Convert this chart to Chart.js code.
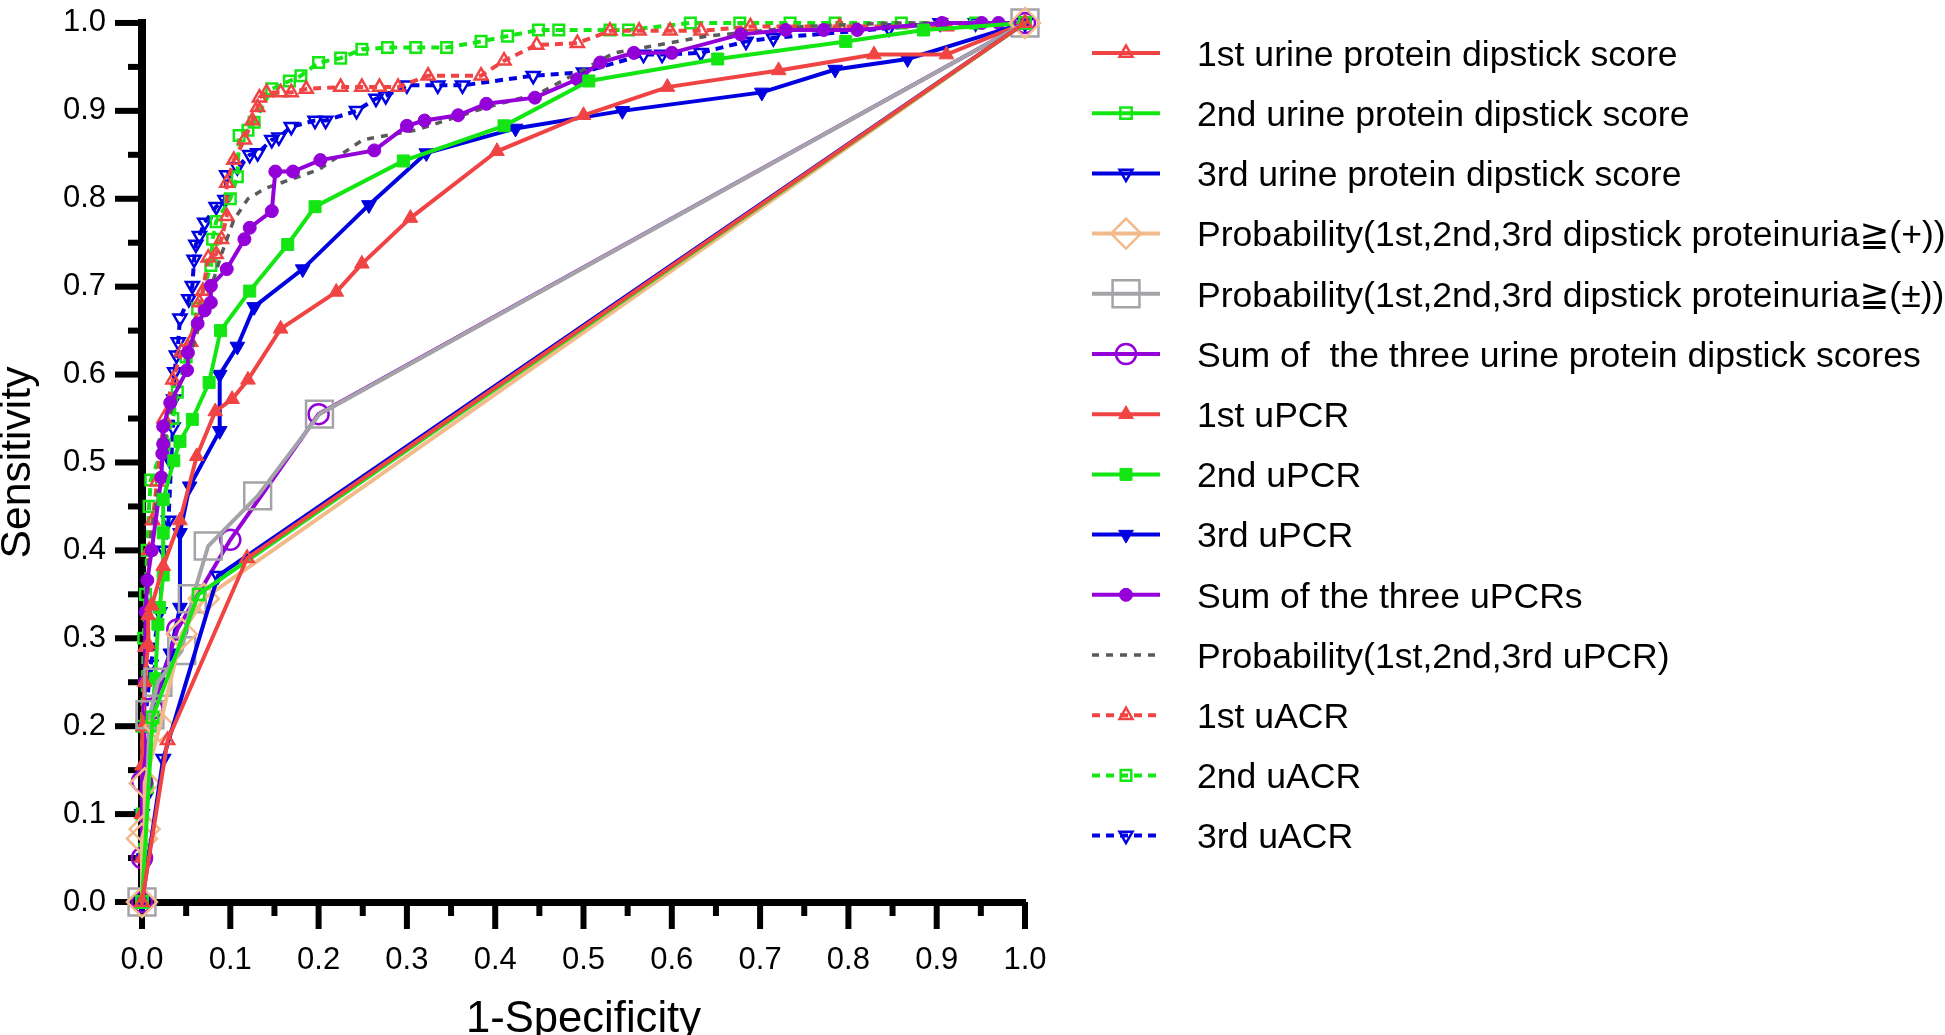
<!DOCTYPE html>
<html>
<head>
<meta charset="utf-8">
<script src="https://cdn.jsdelivr.net/npm/chart.js@4.4.1/dist/chart.umd.min.js"></script>
<style>
  html, body { margin: 0; padding: 0; background: #fff; }
  #wrap { width: 1945px; height: 1035px; }
</style>
</head>
<body>
<div id="wrap"><canvas id="rocChart" width="1945" height="1035"></canvas></div>
<script>
// ROC points as [1-specificity, sensitivity]
const dipstick1st = [[0, 0], [0.029, 0.184], [0.119, 0.391], [1, 1]];
const dipstick2nd = [[0, 0], [0.012, 0.21], [0.064, 0.35], [1, 1]];
const dipstick3rd = [[0, 0], [0.024, 0.163], [0.086, 0.371], [1, 1]];
const probPlus = [[0, 0], [0, 0.072], [0.003, 0.083], [0.003, 0.135], [0.02, 0.2], [0.045, 0.305], [0.07, 0.345], [1, 1]];
const probPlusMinus = [[0, 0], [0.009, 0.213], [0.018, 0.25], [0.045, 0.286], [0.057, 0.345], [0.075, 0.405], [0.131, 0.462], [0.201, 0.555], [1, 1]];
const sumDipstick = [[0, 0], [0, 0.05], [0, 0.137], [0.012, 0.22], [0.04, 0.31], [0.1, 0.412], [0.2, 0.555], [1, 1]];

const uPCR1st = [[0, 0], [0, 0.05], [0, 0.1], [0, 0.155], [0.001, 0.2], [0.003, 0.25], [0.007, 0.293], [0.007, 0.326],
  [0.011, 0.337], [0.024, 0.382], [0.043, 0.434], [0.062, 0.507], [0.083, 0.558], [0.102, 0.572], [0.12, 0.594],
  [0.157, 0.652], [0.22, 0.694], [0.249, 0.726], [0.304, 0.778], [0.402, 0.854], [0.5, 0.895], [0.595, 0.927],
  [0.721, 0.946], [0.829, 0.964], [0.911, 0.964], [1, 1]];
const uPCR2nd = [[0, 0], [0.003, 0.06], [0.006, 0.13], [0.01, 0.2], [0.015, 0.254], [0.018, 0.316], [0.02, 0.335],
  [0.024, 0.372], [0.024, 0.42], [0.024, 0.458], [0.036, 0.502], [0.043, 0.524], [0.057, 0.549], [0.076, 0.591],
  [0.089, 0.65], [0.122, 0.695], [0.165, 0.748], [0.196, 0.791], [0.296, 0.843], [0.41, 0.883], [0.506, 0.934],
  [0.652, 0.959], [0.797, 0.979], [0.885, 0.992], [1, 1]];
const uPCR3rd = [[0, 0], [0.002, 0.05], [0.005, 0.12], [0.01, 0.2], [0.02, 0.25], [0.032, 0.283], [0.043, 0.335],
  [0.043, 0.42], [0.054, 0.473], [0.088, 0.536], [0.088, 0.6], [0.108, 0.632], [0.127, 0.677], [0.182, 0.72],
  [0.257, 0.793], [0.322, 0.852], [0.423, 0.88], [0.544, 0.9], [0.702, 0.921], [0.785, 0.947], [0.867, 0.959], [1, 1]];
const uPCRsum = [[0, 0], [0, 0.05], [0.002, 0.15], [0.003, 0.25], [0.004, 0.33], [0.006, 0.366], [0.011, 0.4],
  [0.022, 0.483], [0.023, 0.51], [0.024, 0.521], [0.024, 0.541], [0.032, 0.568], [0.051, 0.605], [0.052, 0.625],
  [0.063, 0.658], [0.071, 0.673], [0.078, 0.682], [0.078, 0.701], [0.096, 0.72], [0.116, 0.754], [0.122, 0.767],
  [0.147, 0.786], [0.151, 0.831], [0.171, 0.831], [0.202, 0.844], [0.263, 0.855], [0.3, 0.883], [0.32, 0.889],
  [0.358, 0.895], [0.39, 0.908], [0.445, 0.915], [0.493, 0.936], [0.519, 0.955], [0.557, 0.966], [0.6, 0.966],
  [0.678, 0.987], [0.729, 0.992], [0.772, 0.992], [0.81, 0.992], [0.906, 1], [0.951, 1], [0.97, 1], [1, 1]];
const uPCRprob = [[0, 0], [0.002, 0.2], [0.008, 0.4], [0.03, 0.55], [0.06, 0.64], [0.09, 0.737], [0.104, 0.776],
  [0.12, 0.8], [0.14, 0.812], [0.2, 0.833], [0.25, 0.867], [0.31, 0.878], [0.39, 0.904], [0.45, 0.92],
  [0.535, 0.966], [0.64, 0.985], [0.75, 0.996], [0.85, 1], [1, 1]];

const uACR1st = [[0, 0], [0, 0.1], [0.002, 0.2], [0.004, 0.29], [0.008, 0.4], [0.012, 0.434], [0.017, 0.478],
  [0.025, 0.55], [0.035, 0.594], [0.045, 0.626], [0.055, 0.637], [0.065, 0.682], [0.069, 0.695], [0.075, 0.733],
  [0.084, 0.737], [0.09, 0.754], [0.096, 0.78], [0.096, 0.818], [0.104, 0.844], [0.116, 0.867], [0.125, 0.889],
  [0.131, 0.904], [0.133, 0.915], [0.141, 0.921], [0.157, 0.921], [0.169, 0.921], [0.186, 0.925], [0.225, 0.927],
  [0.249, 0.927], [0.269, 0.927], [0.29, 0.927], [0.324, 0.94], [0.384, 0.94], [0.41, 0.957], [0.447, 0.975],
  [0.493, 0.977], [0.53, 0.991], [0.563, 0.991], [0.598, 0.991], [0.633, 0.991], [0.689, 0.996], [0.79, 0.996],
  [0.911, 0.996], [1, 1]];
const uACR2nd = [[0, 0], [0, 0.1], [0, 0.2], [0.002, 0.3], [0.004, 0.35], [0.006, 0.4], [0.008, 0.45], [0.01, 0.48],
  [0.025, 0.52], [0.035, 0.55], [0.04, 0.58], [0.05, 0.62], [0.063, 0.675], [0.078, 0.724], [0.08, 0.754],
  [0.084, 0.774], [0.1, 0.8], [0.108, 0.825], [0.11, 0.872], [0.12, 0.878], [0.127, 0.887], [0.147, 0.925],
  [0.167, 0.934], [0.18, 0.94], [0.2, 0.955], [0.225, 0.96], [0.249, 0.97], [0.278, 0.972], [0.31, 0.972],
  [0.345, 0.972], [0.384, 0.979], [0.414, 0.985], [0.449, 0.992], [0.472, 0.992], [0.53, 0.992], [0.551, 0.992],
  [0.621, 1], [0.677, 1], [0.734, 1], [0.785, 1], [0.86, 1], [0.944, 1], [1, 1]];
const uACR3rd = [[0, 0], [0, 0.1], [0.003, 0.2], [0.01, 0.27], [0.02, 0.33], [0.025, 0.4], [0.03, 0.434],
  [0.033, 0.5], [0.035, 0.54], [0.036, 0.572], [0.037, 0.603], [0.039, 0.622], [0.041, 0.637], [0.043, 0.664],
  [0.053, 0.686], [0.057, 0.701], [0.059, 0.731], [0.061, 0.748], [0.065, 0.758], [0.071, 0.773], [0.084, 0.791],
  [0.094, 0.799], [0.096, 0.827], [0.108, 0.836], [0.122, 0.85], [0.131, 0.852], [0.147, 0.867], [0.155, 0.87],
  [0.169, 0.882], [0.196, 0.889], [0.208, 0.889], [0.243, 0.9], [0.265, 0.914], [0.276, 0.917], [0.3, 0.929],
  [0.335, 0.929], [0.363, 0.929], [0.443, 0.94], [0.5, 0.944], [0.568, 0.964], [0.589, 0.964], [0.633, 0.966],
  [0.684, 0.979], [0.715, 0.983], [0.846, 0.994], [0.904, 1], [0.944, 1], [1, 1]];

const seriesNames = [
  "1st urine protein dipstick score",
  "2nd urine protein dipstick score",
  "3rd urine protein dipstick score",
  "Probability(1st,2nd,3rd dipstick proteinuria≧(+))",
  "Probability(1st,2nd,3rd dipstick proteinuria≧(±))",
  "Sum of  the three urine protein dipstick scores",
  "1st uPCR",
  "2nd uPCR",
  "3rd uPCR",
  "Sum of the three uPCRs",
  "Probability(1st,2nd,3rd uPCR)",
  "1st uACR",
  "2nd uACR",
  "3rd uACR"
];
const seriesData = [dipstick1st, dipstick2nd, dipstick3rd, probPlus, probPlusMinus, sumDipstick,
  uPCR1st, uPCR2nd, uPCR3rd, uPCRsum, uPCRprob, uACR1st, uACR2nd, uACR3rd];
const axisTicks = [0, 0.1, 0.2, 0.3, 0.4, 0.5, 0.6, 0.7, 0.8, 0.9, 1.0];

const RED = "#f04444", GREEN = "#14e614", BLUE = "#0000e0", PURPLE = "#9400d8";
const TAN = "#f2b98a", GREY = "#a4a4a8", DARK = "#5a5a5a";
const NONE = "rgba(0,0,0,0)";

// [color, pointStyle, rotation, radius, filled, dash]
const looks = [
  [RED, "triangle", 0, 7.5, false, []],
  [GREEN, "rect", 0, 8, false, []],
  [BLUE, "triangle", 180, 7.5, false, []],
  [TAN, "rectRot", 0, 15, false, []],
  [GREY, "rect", 0, 19, false, []],
  [PURPLE, "circle", 0, 10, false, []],
  [RED, "triangle", 0, 8.5, true, []],
  [GREEN, "rect", 0, 8.5, true, []],
  [BLUE, "triangle", 180, 8.5, true, []],
  [PURPLE, "circle", 0, 6.5, true, []],
  [DARK, "circle", 0, 0, false, [7, 7]],
  [RED, "triangle", 0, 7.5, false, [8, 6]],
  [GREEN, "rect", 0, 7.5, false, [8, 6]],
  [BLUE, "triangle", 180, 7.5, false, [8, 6]]
];

function fitFont(text, family, width) {
  const c = document.createElement("canvas").getContext("2d");
  c.font = "100px " + family;
  return 100 * width / c.measureText(text).width;
}

const TEXT_FONT = '"Liberation Sans", Arial, sans-serif';
const SIGN_FONT = '"DejaVu Sans", sans-serif';
const TICK_FONT = '"Liberation Sans", Arial, sans-serif';
const legendSize = fitFont(seriesNames[0], TEXT_FONT, 481);
const xTitleSize = fitFont("1-Specificity", TEXT_FONT, 235);
const yTitleSize = fitFont("Sensitivity", TEXT_FONT, 192);

const datasets = seriesData.map((pts, i) => {
  const [color, style, rot, r, filled, dash] = looks[i];
  return {
    label: seriesNames[i],
    data: pts.map(p => ({ x: p[0], y: p[1] })),
    showLine: true,
    borderColor: color,
    borderWidth: i === 10 ? 3.5 : 4,
    borderDash: dash,
    tension: 0,
    pointStyle: style,
    pointRotation: rot,
    pointRadius: r,
    pointBorderColor: color,
    pointBackgroundColor: filled ? color : NONE,
    pointBorderWidth: filled ? 1 : 2.5,
    clip: false
  };
});

// Prism style ticks: long at 0.1, short at 0.05
const prismTicks = {
  id: "prismTicks",
  beforeDatasetsDraw(chart) {
    const { ctx, scales: { x, y } } = chart;
    ctx.save();
    ctx.strokeStyle = "#000";
    ctx.lineWidth = 6;
    for (let i = 0; i <= 20; i++) {
      const len = i % 2 === 0 ? 27 : 14;
      const px = x.getPixelForValue(i / 20);
      ctx.beginPath();
      ctx.moveTo(px, x.top);
      ctx.lineTo(px, x.top + len);
      ctx.stroke();
      const py = y.getPixelForValue(i / 20);
      ctx.beginPath();
      ctx.moveTo(y.right, py);
      ctx.lineTo(y.right - len, py);
      ctx.stroke();
    }
    ctx.restore();
  }
};

// legend text, the ≧ sign comes from a font that has it
function drawLabel(ctx, text, x, y) {
  const parts = text.split("≧");
  parts.forEach((part, k) => {
    ctx.font = legendSize.toFixed(1) + "px " + TEXT_FONT;
    ctx.fillText(part, x, y);
    x += ctx.measureText(part).width;
    if (k < parts.length - 1) {
      ctx.font = legendSize.toFixed(1) + "px " + SIGN_FONT;
      ctx.fillText("≧", x, y);
      x += ctx.measureText("≧").width;
    }
  });
}

const rocLegend = {
  id: "rocLegend",
  afterDraw(chart) {
    const ctx = chart.ctx;
    chart.data.datasets.forEach((ds, i) => {
      const y = 53 + i * 60.2;
      ctx.save();
      ctx.strokeStyle = ds.borderColor;
      ctx.lineWidth = ds.borderWidth;
      ctx.setLineDash(ds.borderDash);
      ctx.beginPath();
      ctx.moveTo(1092, y);
      ctx.lineTo(1160, y);
      ctx.stroke();
      ctx.setLineDash([]);
      if (ds.pointRadius > 0) {
        ctx.fillStyle = ds.pointBackgroundColor;
        ctx.lineWidth = ds.pointBorderWidth;
        Chart.helpers.drawPoint(ctx, {
          pointStyle: ds.pointStyle,
          rotation: ds.pointRotation,
          radius: ds.pointRadius,
          borderWidth: ds.pointBorderWidth
        }, 1126, y);
      }
      ctx.fillStyle = "#000";
      ctx.textBaseline = "middle";
      ctx.textAlign = "left";
      drawLabel(ctx, ds.label, 1197, y + 3);
      ctx.restore();
    });
  }
};

new Chart(document.getElementById("rocChart"), {
  type: "scatter",
  data: { datasets },
  options: {
    responsive: false,
    animation: false,
    devicePixelRatio: 1,
    events: [],
    layout: { padding: { left: 0, top: 15, right: 920, bottom: 0 } },
    plugins: { legend: { display: false }, tooltip: { enabled: false } },
    scales: {
      x: {
        type: "linear",
        min: 0,
        max: 1,
        afterFit: s => { s.height = 133; },
        afterBuildTicks: s => { s.ticks = axisTicks.map(v => ({ value: v })); },
        grid: { display: false, drawTicks: true, tickLength: 27 },
        border: { display: true, color: "#000", width: 7 },
        ticks: {
          padding: 13,
          color: "#000",
          maxRotation: 0,
          font: { family: TICK_FONT, size: 31, lineHeight: 1.2 },
          callback: v => v.toFixed(1)
        },
        title: {
          display: true,
          text: "1-Specificity",
          color: "#000",
          padding: 0,
          font: { family: TEXT_FONT, size: xTitleSize, lineHeight: 0.7 }
        }
      },
      y: {
        type: "linear",
        min: 0,
        max: 1,
        afterFit: s => { s.width = 142; },
        afterBuildTicks: s => { s.ticks = axisTicks.map(v => ({ value: v })); },
        grid: { display: false, drawTicks: true, tickLength: 27 },
        border: { display: true, color: "#000", width: 8 },
        ticks: {
          padding: 9,
          color: "#000",
          font: { family: TICK_FONT, size: 31, lineHeight: 0.9 },
          callback: v => v.toFixed(1)
        },
        title: {
          display: true,
          text: "Sensitivity",
          color: "#000",
          padding: 0,
          font: { family: TEXT_FONT, size: yTitleSize, lineHeight: 0.85 }
        }
      }
    }
  },
  plugins: [prismTicks, rocLegend]
});
</script>
</body>
</html>
